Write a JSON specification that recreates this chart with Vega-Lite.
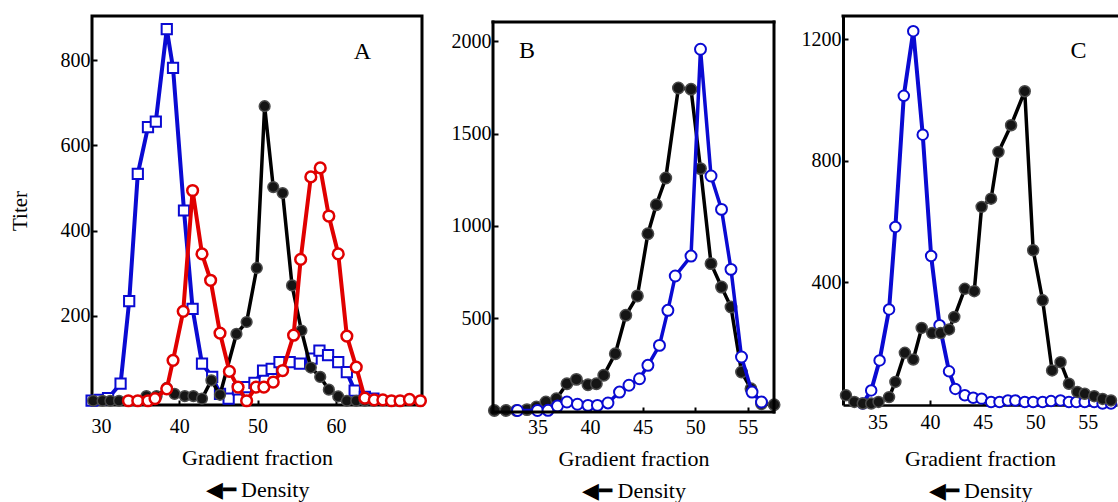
{
  "$schema": "https://vega.github.io/schema/vega-lite/v6.json",
  "padding": {"left": 7, "top": 13, "right": 0, "bottom": 0},
  "background": "white",
  "spacing": 18,
  "config": {
    "font": "Liberation Serif",
    "view": {"stroke": "black", "strokeWidth": 3},
    "axis": {
      "labelFont": "Liberation Serif", "labelFontSize": 20, "labelColor": "black",
      "titleFont": "Liberation Serif", "titleFontSize": 22, "titleFontWeight": "normal", "titleColor": "black",
      "tickColor": "black", "tickWidth": 2, "grid": false, "domain": false,
      "labelFlush": false, "labelOverlap": false
    }
  },
  "datasets": {
    "A": [
      {"s": "blue", "f": 28.8, "t": 0}, {"s": "blue", "f": 29.9, "t": 2}, {"s": "blue", "f": 30.9, "t": 6}, {"s": "blue", "f": 32.5, "t": 40},
      {"s": "blue", "f": 33.6, "t": 234}, {"s": "blue", "f": 34.7, "t": 533}, {"s": "blue", "f": 36.0, "t": 643}, {"s": "blue", "f": 37.0, "t": 656},
      {"s": "blue", "f": 38.4, "t": 873}, {"s": "blue", "f": 39.2, "t": 782}, {"s": "blue", "f": 40.6, "t": 447}, {"s": "blue", "f": 41.7, "t": 216},
      {"s": "blue", "f": 42.9, "t": 87}, {"s": "blue", "f": 44.2, "t": 56}, {"s": "blue", "f": 45.2, "t": 16}, {"s": "blue", "f": 46.3, "t": 5},
      {"s": "blue", "f": 47.5, "t": 27}, {"s": "blue", "f": 48.5, "t": 32}, {"s": "blue", "f": 49.6, "t": 42}, {"s": "blue", "f": 50.7, "t": 71},
      {"s": "blue", "f": 51.8, "t": 75}, {"s": "blue", "f": 52.8, "t": 91}, {"s": "blue", "f": 54.1, "t": 91}, {"s": "blue", "f": 55.4, "t": 87},
      {"s": "blue", "f": 56.9, "t": 99}, {"s": "blue", "f": 57.9, "t": 118}, {"s": "blue", "f": 59.0, "t": 107}, {"s": "blue", "f": 60.3, "t": 91},
      {"s": "blue", "f": 61.4, "t": 67}, {"s": "blue", "f": 62.4, "t": 24}, {"s": "blue", "f": 63.7, "t": 9}, {"s": "blue", "f": 64.8, "t": 5},
      {"s": "black", "f": 29.0, "t": 0}, {"s": "black", "f": 30.2, "t": 0}, {"s": "black", "f": 31.2, "t": 0}, {"s": "black", "f": 32.3, "t": 0},
      {"s": "black", "f": 35.8, "t": 11}, {"s": "black", "f": 37.1, "t": 11}, {"s": "black", "f": 38.4, "t": 30}, {"s": "black", "f": 39.4, "t": 16},
      {"s": "black", "f": 40.7, "t": 11}, {"s": "black", "f": 41.8, "t": 11}, {"s": "black", "f": 42.9, "t": 5}, {"s": "black", "f": 44.1, "t": 48},
      {"s": "black", "f": 45.2, "t": 14}, {"s": "black", "f": 47.3, "t": 157}, {"s": "black", "f": 48.6, "t": 185}, {"s": "black", "f": 49.9, "t": 312},
      {"s": "black", "f": 50.9, "t": 692}, {"s": "black", "f": 52.0, "t": 502}, {"s": "black", "f": 53.2, "t": 488}, {"s": "black", "f": 54.4, "t": 271},
      {"s": "black", "f": 55.6, "t": 165}, {"s": "black", "f": 56.8, "t": 78}, {"s": "black", "f": 58.0, "t": 56}, {"s": "black", "f": 59.1, "t": 26},
      {"s": "black", "f": 60.3, "t": 10}, {"s": "black", "f": 61.4, "t": 0}, {"s": "black", "f": 62.6, "t": 0}, {"s": "black", "f": 63.7, "t": 0},
      {"s": "black", "f": 64.8, "t": 0},
      {"s": "red", "f": 33.5, "t": 0}, {"s": "red", "f": 34.7, "t": 0}, {"s": "red", "f": 36.0, "t": 0}, {"s": "red", "f": 36.9, "t": 5},
      {"s": "red", "f": 38.4, "t": 28}, {"s": "red", "f": 39.2, "t": 95}, {"s": "red", "f": 40.5, "t": 210}, {"s": "red", "f": 41.7, "t": 494},
      {"s": "red", "f": 42.9, "t": 345}, {"s": "red", "f": 44.0, "t": 283}, {"s": "red", "f": 45.2, "t": 159}, {"s": "red", "f": 46.4, "t": 69},
      {"s": "red", "f": 47.5, "t": 32}, {"s": "red", "f": 48.6, "t": 0}, {"s": "red", "f": 49.8, "t": 32}, {"s": "red", "f": 50.8, "t": 32},
      {"s": "red", "f": 52.0, "t": 44}, {"s": "red", "f": 53.2, "t": 71}, {"s": "red", "f": 54.6, "t": 154}, {"s": "red", "f": 55.5, "t": 332},
      {"s": "red", "f": 56.8, "t": 526}, {"s": "red", "f": 58.0, "t": 547}, {"s": "red", "f": 59.1, "t": 434}, {"s": "red", "f": 60.3, "t": 345},
      {"s": "red", "f": 61.4, "t": 152}, {"s": "red", "f": 62.6, "t": 79}, {"s": "red", "f": 63.7, "t": 6}, {"s": "red", "f": 64.9, "t": 2},
      {"s": "red", "f": 66.0, "t": 2}, {"s": "red", "f": 67.1, "t": 0}, {"s": "red", "f": 68.2, "t": 0}, {"s": "red", "f": 69.4, "t": 3},
      {"s": "red", "f": 70.8, "t": 0}
    ],
    "B": [
      {"s": "blue", "f": 33.1, "t": 0}, {"s": "blue", "f": 35.0, "t": 0}, {"s": "blue", "f": 36.0, "t": 1}, {"s": "blue", "f": 36.9, "t": 24},
      {"s": "blue", "f": 37.8, "t": 46}, {"s": "blue", "f": 38.8, "t": 34}, {"s": "blue", "f": 39.8, "t": 28}, {"s": "blue", "f": 40.7, "t": 28},
      {"s": "blue", "f": 41.7, "t": 41}, {"s": "blue", "f": 42.8, "t": 100}, {"s": "blue", "f": 43.7, "t": 137}, {"s": "blue", "f": 44.7, "t": 172},
      {"s": "blue", "f": 45.5, "t": 245}, {"s": "blue", "f": 46.6, "t": 353}, {"s": "blue", "f": 47.4, "t": 543}, {"s": "blue", "f": 48.1, "t": 729},
      {"s": "blue", "f": 49.6, "t": 837}, {"s": "blue", "f": 50.5, "t": 1958}, {"s": "blue", "f": 51.5, "t": 1271}, {"s": "blue", "f": 52.5, "t": 1090},
      {"s": "blue", "f": 53.4, "t": 765}, {"s": "blue", "f": 54.4, "t": 290}, {"s": "blue", "f": 55.4, "t": 100}, {"s": "blue", "f": 56.3, "t": 46},
      {"s": "black", "f": 30.9, "t": 0}, {"s": "black", "f": 32.0, "t": 0}, {"s": "black", "f": 33.0, "t": 0}, {"s": "black", "f": 34.0, "t": 5},
      {"s": "black", "f": 34.9, "t": 19}, {"s": "black", "f": 35.8, "t": 46}, {"s": "black", "f": 36.8, "t": 64}, {"s": "black", "f": 37.8, "t": 145},
      {"s": "black", "f": 38.7, "t": 169}, {"s": "black", "f": 39.8, "t": 140}, {"s": "black", "f": 40.6, "t": 145}, {"s": "black", "f": 41.3, "t": 191},
      {"s": "black", "f": 42.4, "t": 308}, {"s": "black", "f": 43.4, "t": 516}, {"s": "black", "f": 44.5, "t": 621}, {"s": "black", "f": 45.5, "t": 958},
      {"s": "black", "f": 46.3, "t": 1115}, {"s": "black", "f": 47.2, "t": 1260}, {"s": "black", "f": 48.4, "t": 1748}, {"s": "black", "f": 49.6, "t": 1741},
      {"s": "black", "f": 50.5, "t": 1311}, {"s": "black", "f": 51.5, "t": 796}, {"s": "black", "f": 52.5, "t": 669}, {"s": "black", "f": 53.4, "t": 561},
      {"s": "black", "f": 54.4, "t": 209}, {"s": "black", "f": 55.3, "t": 118}, {"s": "black", "f": 56.3, "t": 37}, {"s": "black", "f": 57.5, "t": 31}
    ],
    "C": [
      {"s": "blue", "f": 33.6, "t": 0}, {"s": "blue", "f": 34.4, "t": 43}, {"s": "blue", "f": 35.2, "t": 142}, {"s": "blue", "f": 36.1, "t": 310},
      {"s": "blue", "f": 36.7, "t": 582}, {"s": "blue", "f": 37.5, "t": 1014}, {"s": "blue", "f": 38.4, "t": 1227}, {"s": "blue", "f": 39.3, "t": 886},
      {"s": "blue", "f": 40.1, "t": 486}, {"s": "blue", "f": 40.9, "t": 258}, {"s": "blue", "f": 41.8, "t": 106}, {"s": "blue", "f": 42.4, "t": 48},
      {"s": "blue", "f": 43.3, "t": 27}, {"s": "blue", "f": 44.1, "t": 19}, {"s": "blue", "f": 44.9, "t": 16}, {"s": "blue", "f": 45.8, "t": 5},
      {"s": "blue", "f": 46.6, "t": 5}, {"s": "blue", "f": 47.4, "t": 10}, {"s": "blue", "f": 48.1, "t": 10}, {"s": "blue", "f": 49.0, "t": 5},
      {"s": "blue", "f": 49.8, "t": 5}, {"s": "blue", "f": 50.7, "t": 5}, {"s": "blue", "f": 51.5, "t": 8}, {"s": "blue", "f": 52.4, "t": 10},
      {"s": "blue", "f": 53.2, "t": 5}, {"s": "blue", "f": 53.9, "t": 5}, {"s": "blue", "f": 54.7, "t": 5}, {"s": "blue", "f": 55.6, "t": 5},
      {"s": "blue", "f": 56.4, "t": 0}, {"s": "blue", "f": 57.2, "t": 0},
      {"s": "black", "f": 32.0, "t": 27}, {"s": "black", "f": 32.8, "t": 5}, {"s": "black", "f": 33.6, "t": 0}, {"s": "black", "f": 34.4, "t": 0},
      {"s": "black", "f": 35.1, "t": 5}, {"s": "black", "f": 36.1, "t": 21}, {"s": "black", "f": 36.7, "t": 71}, {"s": "black", "f": 37.6, "t": 167},
      {"s": "black", "f": 38.4, "t": 145}, {"s": "black", "f": 39.2, "t": 249}, {"s": "black", "f": 40.2, "t": 232}, {"s": "black", "f": 41.0, "t": 232},
      {"s": "black", "f": 41.8, "t": 244}, {"s": "black", "f": 42.3, "t": 285}, {"s": "black", "f": 43.3, "t": 378}, {"s": "black", "f": 44.2, "t": 370},
      {"s": "black", "f": 44.9, "t": 648}, {"s": "black", "f": 45.8, "t": 675}, {"s": "black", "f": 46.5, "t": 829}, {"s": "black", "f": 47.7, "t": 917},
      {"s": "black", "f": 49.0, "t": 1029}, {"s": "black", "f": 49.8, "t": 505}, {"s": "black", "f": 50.7, "t": 340}, {"s": "black", "f": 51.6, "t": 109},
      {"s": "black", "f": 52.4, "t": 136}, {"s": "black", "f": 53.2, "t": 65}, {"s": "black", "f": 54.0, "t": 38}, {"s": "black", "f": 54.7, "t": 32},
      {"s": "black", "f": 55.6, "t": 24}, {"s": "black", "f": 56.4, "t": 15}, {"s": "black", "f": 57.2, "t": 10}
    ]
  },
  "hconcat": [
    {
      "width": 330, "height": 389,
      "layer": [
        {
          "data": {"name": "A"},
          "encoding": {
            "x": {"field": "f", "type": "quantitative",
              "scale": {"domain": [28.85, 71], "nice": false, "zero": false},
              "axis": {"values": [30, 40, 50, 60], "tickSize": -5, "labelPadding": 16,
                "title": ["Gradient fraction", "◀━ Density\u00a0\u00a0\u00a0\u00a0\u00a0\u00a0\u00a0\u00a0"], "titlePadding": 11, "titleLineHeight": 32}},
            "y": {"field": "t", "type": "quantitative",
              "scale": {"domain": [-10, 904], "nice": false, "zero": false},
              "axis": {"values": [200, 400, 600, 800], "format": "d", "tickSize": -5, "labelPadding": 7, "title": "Titer", "titleFontSize": 21, "titlePadding": 30}}
          },
          "layer": [
            {"transform": [{"filter": "datum.s === 'blue'"}], "mark": {"type": "line", "color": "#0a0ad2", "strokeWidth": 4}},
            {"transform": [{"filter": "datum.s === 'blue'"}], "mark": {"type": "point", "shape": "square", "size": 105, "filled": true, "fill": "white", "stroke": "#0a0ad2", "strokeWidth": 2, "opacity": 1}},
            {"transform": [{"filter": "datum.s === 'black'"}], "mark": {"type": "line", "color": "black", "strokeWidth": 3.5}},
            {"transform": [{"filter": "datum.s === 'black'"}], "mark": {"type": "point", "shape": "circle", "size": 115, "filled": true, "fill": "#151515", "stroke": "#4a4a4a", "strokeWidth": 1.5, "opacity": 1}},
            {"transform": [{"filter": "datum.s === 'red'"}], "mark": {"type": "line", "color": "#e00000", "strokeWidth": 4}},
            {"transform": [{"filter": "datum.s === 'red'"}], "mark": {"type": "point", "shape": "circle", "size": 115, "filled": true, "fill": "white", "stroke": "#e00000", "strokeWidth": 2.5, "opacity": 1}}
          ]
        },
        {"data": {"values": [{"label": "A"}]},
          "mark": {"type": "text", "fontSize": 24, "font": "Liberation Serif", "color": "black", "align": "center", "baseline": "middle"},
          "encoding": {
            "x": {"datum": 63.4, "type": "quantitative"},
            "y": {"datum": 819, "type": "quantitative"},
            "text": {"field": "label"}}}
      ]
    },
    {
      "width": 281, "height": 396,
      "view": {"stroke": null},
      "layer": [
        {
          "data": {"name": "B"},
          "encoding": {
            "x": {"field": "f", "type": "quantitative",
              "scale": {"domain": [30.77, 57.49], "nice": false, "zero": false},
              "axis": {"values": [35, 40, 45, 50, 55], "tickSize": -5, "labelPadding": 10,
                "title": ["Gradient fraction", "◀━ Density\u00a0\u00a0\u00a0\u00a0\u00a0\u00a0\u00a0\u00a0"], "titlePadding": 11, "titleLineHeight": 32}},
            "y": {"field": "t", "type": "quantitative",
              "scale": {"domain": [-8, 2138], "nice": false, "zero": false},
              "axis": {"values": [500, 1000, 1500, 2000], "format": "d", "tickSize": -5, "labelPadding": 7, "title": null}}
          },
          "layer": [
            {"transform": [{"filter": "datum.s === 'black'"}], "mark": {"type": "line", "color": "black", "strokeWidth": 3.5}},
            {"transform": [{"filter": "datum.s === 'black'"}], "mark": {"type": "point", "shape": "circle", "size": 130, "filled": true, "fill": "#151515", "stroke": "#4a4a4a", "strokeWidth": 1.5, "opacity": 1}},
            {"transform": [{"filter": "datum.s === 'blue'"}], "mark": {"type": "line", "color": "#0a0ad2", "strokeWidth": 3.5}},
            {"transform": [{"filter": "datum.s === 'blue'"}], "mark": {"type": "point", "shape": "circle", "size": 120, "filled": true, "fill": "white", "stroke": "#0a0ad2", "strokeWidth": 2, "opacity": 1}}
          ]
        },
        {"data": {"values": [{"label": "top"}]},
          "mark": {"type": "rule", "color": "black", "strokeWidth": 3, "strokeCap": "square"},
          "encoding": {
            "x": {"datum": 30.77, "type": "quantitative"},
            "x2": {"datum": 57.49},
            "y": {"datum": 2106, "type": "quantitative"}}},
        {"data": {"values": [{"label": "bottom"}]},
          "mark": {"type": "rule", "color": "black", "strokeWidth": 3, "strokeCap": "square"},
          "encoding": {
            "x": {"datum": 30.77, "type": "quantitative"},
            "x2": {"datum": 57.49},
            "y": {"datum": -8, "type": "quantitative"}}},
        {"data": {"values": [{"label": "left"}]},
          "mark": {"type": "rule", "color": "black", "strokeWidth": 3, "strokeCap": "square"},
          "encoding": {
            "x": {"datum": 30.77, "type": "quantitative"},
            "y": {"datum": -8, "type": "quantitative"},
            "y2": {"datum": 2106}}},
        {"data": {"values": [{"label": "right"}]},
          "mark": {"type": "rule", "color": "black", "strokeWidth": 3, "strokeCap": "square"},
          "encoding": {
            "x": {"datum": 57.49, "type": "quantitative"},
            "y": {"datum": -8, "type": "quantitative"},
            "y2": {"datum": 2106}}},
        {"data": {"values": [{"label": "B"}]},
          "mark": {"type": "text", "fontSize": 24, "font": "Liberation Serif", "color": "black", "align": "center", "baseline": "middle"},
          "encoding": {
            "x": {"datum": 34.0, "type": "quantitative"},
            "y": {"datum": 1947, "type": "quantitative"},
            "text": {"field": "label"}}}
      ]
    },
    {
      "width": 274, "height": 389,
      "view": {"stroke": null},
      "layer": [
        {
          "data": {"name": "C"},
          "encoding": {
            "x": {"field": "f", "type": "quantitative",
              "scale": {"domain": [31.72, 57.77], "nice": false, "zero": false},
              "axis": {"values": [35, 40, 45, 50, 55], "tickSize": -5, "labelPadding": 12, "domain": true, "domainColor": "black", "domainWidth": 2.5,
                "title": ["Gradient fraction", "◀━ Density\u00a0\u00a0\u00a0\u00a0\u00a0\u00a0\u00a0\u00a0"], "titlePadding": 16, "titleLineHeight": 32}},
            "y": {"field": "t", "type": "quantitative",
              "scale": {"domain": [-5, 1277], "nice": false, "zero": false},
              "axis": {"values": [400, 800, 1200], "format": "d", "tickSize": -5, "labelPadding": 7, "title": null, "domain": true, "domainColor": "black", "domainWidth": 3}}
          },
          "layer": [
            {"transform": [{"filter": "datum.s === 'blue'"}], "mark": {"type": "line", "color": "#0a0ad2", "strokeWidth": 4}},
            {"transform": [{"filter": "datum.s === 'blue'"}], "mark": {"type": "point", "shape": "circle", "size": 110, "filled": true, "fill": "white", "stroke": "#0a0ad2", "strokeWidth": 2, "opacity": 1}},
            {"transform": [{"filter": "datum.s === 'black'"}], "mark": {"type": "line", "color": "black", "strokeWidth": 3.5}},
            {"transform": [{"filter": "datum.s === 'black'"}], "mark": {"type": "point", "shape": "circle", "size": 120, "filled": true, "fill": "#151515", "stroke": "#4a4a4a", "strokeWidth": 1.5, "opacity": 1}}
          ]
        },
        {"data": {"values": [{"label": "top"}]},
          "mark": {"type": "rule", "color": "black", "strokeWidth": 3, "strokeCap": "square"},
          "encoding": {
            "x": {"datum": 31.72, "type": "quantitative"},
            "x2": {"datum": 57.77},
            "y": {"datum": 1277, "type": "quantitative"}}},
        {"data": {"values": [{"label": "C"}]},
          "mark": {"type": "text", "fontSize": 24, "font": "Liberation Serif", "color": "black", "align": "center", "baseline": "middle"},
          "encoding": {
            "x": {"datum": 54.1, "type": "quantitative"},
            "y": {"datum": 1161, "type": "quantitative"},
            "text": {"field": "label"}}}
      ]
    }
  ]
}
